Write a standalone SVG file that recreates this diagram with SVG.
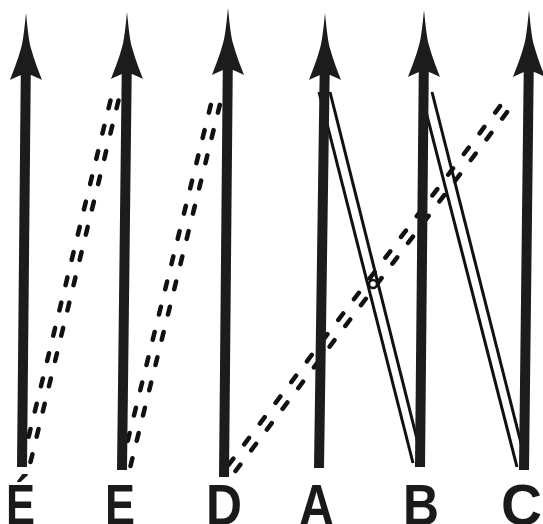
<svg xmlns="http://www.w3.org/2000/svg" width="543" height="524" viewBox="0 0 543 524">
<style>
.shaft{stroke:#1c1c1c;stroke-width:10;fill:none}
.head{fill:#1c1c1c}
.dash{stroke:#111;stroke-width:4.5;stroke-dasharray:8 18;stroke-linecap:round;fill:none}
.solid{stroke:#111;stroke-width:3;fill:none}
.lbl{font-family:"Liberation Sans",Arial,sans-serif;font-weight:bold;font-size:58px;fill:#1a1a1a}
</style>
<defs>
<path id="head" class="head" d="M0,0 C1.5,15 3,30 5.5,37 C8,46 11,54 16,67 C12,65 8,63 5,62 L-5,62 C-8,63 -12,65 -16,67 C-11,54 -8,46 -5.5,37 C-3,30 -1.5,15 0,0 Z"/>
</defs>
<rect width="543" height="524" fill="#fff"/>
<g id="connectors">
<line class="dash" x1="22.5" y1="462" x2="114" y2="86"/>
<line class="dash" x1="30.5" y1="462" x2="122" y2="86"/>
<line class="dash" x1="121.5" y1="466" x2="215" y2="88"/>
<line class="dash" x1="130.5" y1="466" x2="224" y2="88"/>
<line class="dash" x1="228.5" y1="465" x2="508.5" y2="95"/>
<line class="dash" x1="235.5" y1="471" x2="515.5" y2="101"/>
<line class="solid" x1="319" y1="92" x2="413" y2="463"/>
<line class="solid" x1="330" y1="92" x2="421" y2="455"/>
<line class="solid" x1="421" y1="92" x2="517" y2="467"/>
<line class="solid" x1="432" y1="92" x2="524" y2="455"/>
<circle cx="373" cy="284" r="4" fill="#fff" stroke="#111" stroke-width="2.5"/>
</g>
<g id="node-E1">
<line class="shaft" x1="26" y1="50" x2="22" y2="467"/>
<use href="#head" transform="translate(26,13)"/>
<text class="lbl" x="6" y="525" textLength="29" lengthAdjust="spacingAndGlyphs">É</text>
</g>
<g id="node-E2">
<line class="shaft" x1="127" y1="49" x2="122" y2="470"/>
<use href="#head" transform="translate(127,12)"/>
<text class="lbl" x="105" y="525" textLength="30" lengthAdjust="spacingAndGlyphs">E</text>
</g>
<g id="node-D">
<line class="shaft" x1="228" y1="44" x2="224" y2="477"/>
<use href="#head" transform="translate(228,8)"/>
<text class="lbl" x="206" y="525" textLength="36" lengthAdjust="spacingAndGlyphs">D</text>
</g>
<g id="node-A">
<line class="shaft" x1="325" y1="50" x2="319" y2="468"/>
<use href="#head" transform="translate(325,13)"/>
<text class="lbl" x="299" y="525" textLength="35" lengthAdjust="spacingAndGlyphs">A</text>
</g>
<g id="node-B">
<line class="shaft" x1="424" y1="47" x2="420" y2="467"/>
<use href="#head" transform="translate(424,10)"/>
<text class="lbl" x="403" y="525" textLength="36" lengthAdjust="spacingAndGlyphs">B</text>
</g>
<g id="node-C">
<line class="shaft" x1="529" y1="47" x2="524" y2="470"/>
<use href="#head" transform="translate(529,10)"/>
<text class="lbl" x="501" y="525" textLength="41" lengthAdjust="spacingAndGlyphs">C</text>
</g>
</svg>
